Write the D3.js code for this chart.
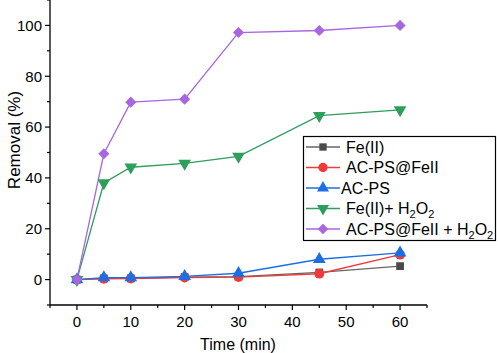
<!DOCTYPE html>
<html>
<head>
<meta charset="utf-8">
<script src="https://cdn.jsdelivr.net/npm/d3@7"></script>
<style>
  body { margin: 0; background: #fff; }
  svg { display: block; font-family: 'Liberation Sans', Arial, sans-serif; }
</style>
</head>
<body>
<svg id="chart" width="498" height="353"></svg>
<script>
const times = [0, 5, 10, 20, 30, 45, 60]
const feII = [0, 0.5, 0.5, 1.0, 1.2, 2.8, 5.3]
const acpsFeII = [0, 0.3, 0.4, 0.8, 1.0, 2.3, 9.8]
const acps = [0, 0.8, 0.8, 1.3, 2.5, 8.0, 10.5]
const feIIH2O2 = [0, 38.0, 44.2, 45.7, 48.5, 64.5, 66.8]
const acpsFeIIH2O2 = [0, 49.5, 69.8, 71.0, 97.2, 98.0, 100.0]
const xTicks = [0, 10, 20, 30, 40, 50, 60]
const yTicks = [0, 20, 40, 60, 80, 100]

const series = [
  {name: 'Fe(II)', values: feII, color: '#4a4a4a', line: '#666', symbol: d3.symbolSquare, size: 60},
  {name: 'AC-PS@FeII', values: acpsFeII, color: '#f03a3a', line: '#f03a3a', symbol: d3.symbolCircle, size: 75},
  {name: 'AC-PS', values: acps, color: '#1c6fe3', line: '#1c6fe3', symbol: d3.symbolTriangle, size: 70},
  {name: 'Fe(II)+ H2O2', values: feIIH2O2, color: '#2e9e5b', line: '#2e9e5b', symbol: d3.symbolTriangle, size: 70, rot: 180},
  {name: 'AC-PS@FeII + H2O2', values: acpsFeIIH2O2, color: '#a866e0', line: '#a866e0', symbol: d3.symbolSquare, size: 62, rot: 45},
]

const svg = d3.select('#chart')
const x = d3.scaleLinear().domain([-5, 65]).range([50, 427])
const y = d3.scaleLinear().domain([-10, 110]).range([305, 0])

// axes
const xAxis = svg.append('g').attr('transform', 'translate(0,305)')
xAxis.append('line').attr('x1', 50).attr('x2', 427).attr('stroke', '#000').attr('stroke-width', 1.3)
d3.range(-5, 66, 5).forEach(v => {
  const major = v % 10 === 0
  xAxis.append('line')
    .attr('x1', x(v)).attr('x2', x(v)).attr('y1', 0).attr('y2', major ? 5 : 3)
    .attr('stroke', '#000').attr('stroke-width', 1.2)
})
xTicks.forEach(v => {
  xAxis.append('text').attr('x', x(v)).attr('y', 22).attr('text-anchor', 'middle')
    .attr('font-size', 15).text(v)
})

const yAxis = svg.append('g').attr('transform', 'translate(50,0)')
yAxis.append('line').attr('y1', 0).attr('y2', 305).attr('stroke', '#000').attr('stroke-width', 1.3)
d3.range(-10, 111, 10).forEach(v => {
  const major = v % 20 === 0
  yAxis.append('line')
    .attr('x1', major ? -5 : -3).attr('x2', 0).attr('y1', y(v)).attr('y2', y(v))
    .attr('stroke', '#000').attr('stroke-width', 1.2)
})
yTicks.forEach(v => {
  yAxis.append('text').attr('x', -8).attr('y', y(v)).attr('dy', '0.35em')
    .attr('text-anchor', 'end').attr('font-size', 15).text(v)
})

svg.append('text').attr('x', 238).attr('y', 350).attr('text-anchor', 'middle')
  .attr('font-size', 16).text('Time (min)')
svg.append('text').attr('transform', 'translate(20,140) rotate(-90)')
  .attr('text-anchor', 'middle').attr('font-size', 17).text('Removal (%)')

const line = d3.line().x(d => x(d[0])).y(d => y(d[1]))

function marker(g, s, cx, cy, scale) {
  g.append('path')
    .attr('d', d3.symbol().type(s.symbol).size(s.size * (scale || 1))())
    .attr('transform', `translate(${cx},${cy})` + (s.rot ? ` rotate(${s.rot})` : ''))
    .attr('fill', s.color)
}

series.forEach(s => {
  const pts = d3.zip(times, s.values)
  svg.append('path').datum(pts).attr('d', line)
    .attr('fill', 'none').attr('stroke', s.line).attr('stroke-width', 1.3)
})
series.forEach(s => {
  const g = svg.append('g')
  d3.zip(times, s.values).forEach(p => marker(g, s, x(p[0]), y(p[1])))
})

// legend
const leg = svg.append('g')
leg.append('rect').attr('x', 303.5).attr('y', 136.5).attr('width', 192).attr('height', 104)
  .attr('fill', '#fff').attr('stroke', '#000').attr('stroke-width', 1.2)
series.forEach((s, i) => {
  const ly = 147 + i * 20.5
  leg.append('line').attr('x1', 306).attr('x2', 340).attr('y1', ly).attr('y2', ly)
    .attr('stroke', s.line).attr('stroke-width', 1.3)
  marker(leg, s, 323, ly, 0.9)
  const t = leg.append('text').attr('x', s.name === 'AC-PS' ? 341 : 346).attr('y', ly).attr('dy', '0.35em')
    .attr('font-size', 16)
  const m = s.name.match(/^(.*)H2O2$/)
  if (m) {
    t.append('tspan').text(m[1] + 'H')
    t.append('tspan').attr('font-size', 11).attr('dy', 4).text('2')
    t.append('tspan').attr('dy', -4).text('O')
    t.append('tspan').attr('font-size', 11).attr('dy', 4).text('2')
  } else {
    t.text(s.name)
  }
})
</script>
</body>
</html>
